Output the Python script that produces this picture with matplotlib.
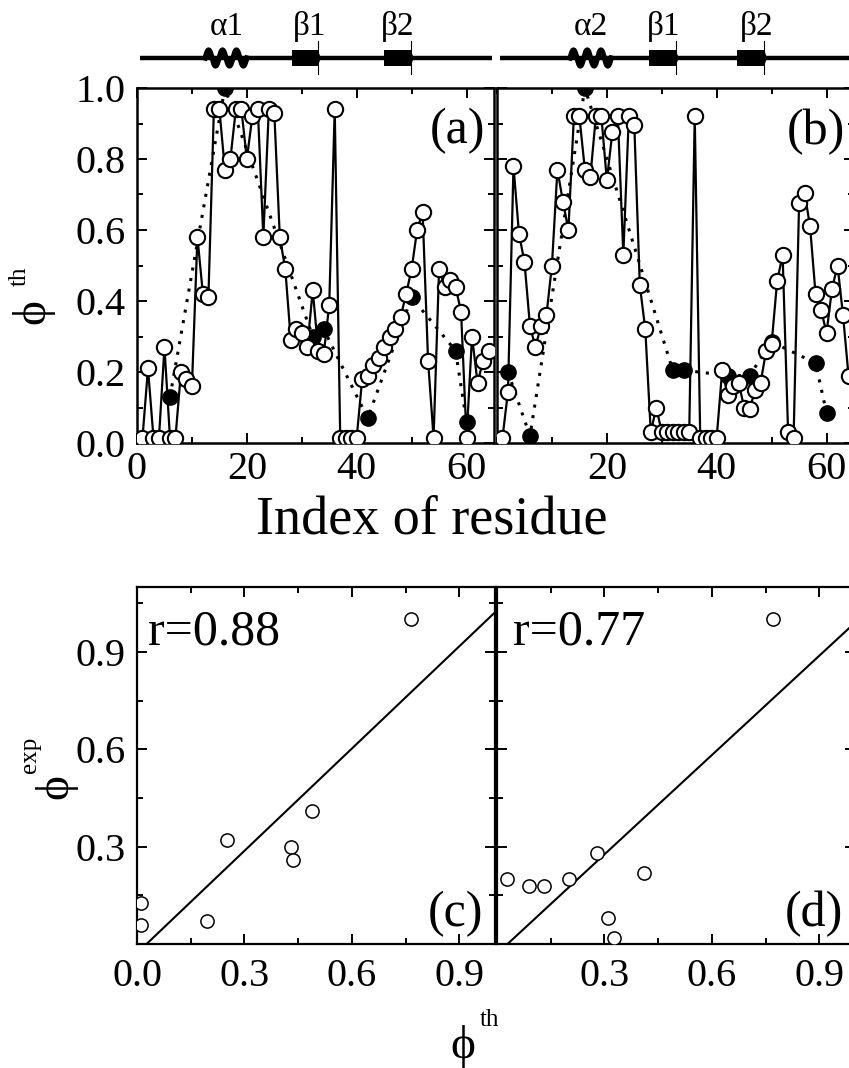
import matplotlib
matplotlib.use("Agg")
import matplotlib.pyplot as plt
from matplotlib.patches import Rectangle, Polygon
from matplotlib.ticker import MultipleLocator, FixedLocator
import numpy as np

plt.rcParams["font.family"] = ["Liberation Serif", "DejaVu Serif"]

W, H = 849, 1068

# ---- data -------------------------------------------------------------
residues = np.arange(1, 65)

# theoretical phi values per residue
phi_th_a = [0.015, 0.21, 0.015, 0.015, 0.27, 0.015, 0.015, 0.20, 0.18, 0.16,
            0.58, 0.42, 0.41, 0.94, 0.94, 0.77, 0.80, 0.94, 0.94, 0.80,
            0.92, 0.94, 0.58, 0.94, 0.93, 0.58, 0.49, 0.29, 0.32, 0.31,
            0.27, 0.43, 0.26, 0.25, 0.39, 0.94, 0.015, 0.015, 0.015, 0.015,
            0.18, 0.19, 0.22, 0.24, 0.27, 0.30, 0.32, 0.355, 0.42, 0.49,
            0.60, 0.65, 0.23, 0.015, 0.49, 0.44, 0.46, 0.44, 0.37, 0.015,
            0.30, 0.17, 0.23, 0.26]
phi_th_b = [0.015, 0.145, 0.78, 0.59, 0.51, 0.33, 0.27, 0.33, 0.36, 0.50,
            0.77, 0.68, 0.60, 0.92, 0.92, 0.77, 0.75, 0.92, 0.92, 0.74,
            0.875, 0.92, 0.53, 0.92, 0.895, 0.445, 0.32, 0.03, 0.10, 0.03,
            0.03, 0.03, 0.03, 0.03, 0.03, 0.92, 0.015, 0.015, 0.015, 0.015,
            0.205, 0.135, 0.16, 0.17, 0.10, 0.095, 0.15, 0.17, 0.26, 0.28,
            0.455, 0.53, 0.03, 0.015, 0.675, 0.705, 0.61, 0.42, 0.375, 0.31,
            0.435, 0.50, 0.36, 0.19]

# experimental phi values
exp_res_a = [6, 16, 32, 34, 42, 50, 58, 60]
exp_val_a = [0.13, 1.0, 0.30, 0.32, 0.07, 0.41, 0.26, 0.06]
exp_res_b = [2, 6, 16, 32, 34, 42, 46, 50, 58, 60]
exp_val_b = [0.20, 0.02, 1.0, 0.205, 0.205, 0.19, 0.19, 0.285, 0.225, 0.085]

# correlation panels
corr_th_c = [0.01, 0.01, 0.195, 0.25, 0.43, 0.435, 0.49, 0.765]
corr_exp_c = [0.127, 0.06, 0.07, 0.32, 0.30, 0.26, 0.41, 1.0]
corr_th_d = [0.027, 0.088, 0.13, 0.20, 0.28, 0.41, 0.31, 0.326, 0.77]
corr_exp_d = [0.20, 0.18, 0.18, 0.20, 0.28, 0.22, 0.08, 0.02, 1.0]
fit_c = (1.05, -0.028)  # slope, intercept
fit_d = (1.02, -0.03)
r_values = ["r=0.88", "r=0.77"]

# secondary structure (residue ranges)
helix_a = (12.4, 20.0)
strands_a = [(28.2, 33.5), (45.0, 50.4)]
labels_a = [("\u03b11", 16.4), ("\u03b21", 31.5), ("\u03b22", 47.4)]
helix_b = (13.3, 20.8)
strands_b = [(27.7, 33.1), (43.7, 49.2)]
labels_b = [("\u03b12", 17.1), ("\u03b21", 30.4), ("\u03b22", 47.3)]

panel_tags = ["(a)", "(b)", "(c)", "(d)"]
PHI = "\u03d5"


def box(left, top, width, height):
    """Axes rectangle from pixel geometry."""
    return [left / W, 1 - (top + height) / H, width / W, height / H]


def style_axes(ax, lw=1.8):
    for s in ax.spines.values():
        s.set_linewidth(lw)
    ax.tick_params(which="both", direction="in", top=True, right=True,
                   labelsize=29, width=1.4, pad=8)
    ax.tick_params(which="major", length=7)
    ax.tick_params(which="minor", length=4)


fig = plt.figure(figsize=(W / 100, H / 100), dpi=100)

# ---- residue profiles ---------------------------------------------------
ax_a = fig.add_axes(box(137, 88, 357, 355))
ax_b = fig.add_axes(box(497, 88, 357, 355))
profiles = [(ax_a, phi_th_a, exp_res_a, exp_val_a),
            (ax_b, phi_th_b, exp_res_b, exp_val_b)]
for ax, th, er, ev in profiles:
    ax.plot(er, ev, color="black", ls=(0, (1, 2.5)), lw=2.2,
            marker="o", ms=11, mfc="black", mec="black", zorder=2)
    ax.plot(residues, th, color="black", lw=1.6, marker="o", ms=11,
            mfc="white", mec="black", mew=1.5, zorder=3)
    ax.set_xlim(0, 65)
    ax.set_ylim(0, 1.0)
    ax.xaxis.set_major_locator(FixedLocator([0, 20, 40, 60]))
    ax.xaxis.set_minor_locator(MultipleLocator(10))
    ax.yaxis.set_major_locator(MultipleLocator(0.2))
    ax.yaxis.set_minor_locator(MultipleLocator(0.1))
    ax.yaxis.set_major_formatter(lambda v, p: f"{v:.1f}")
    style_axes(ax)
    ax.tick_params(axis="x", pad=6)
ax_b.xaxis.set_major_locator(FixedLocator([20, 40, 60]))
ax_b.tick_params(labelleft=False)

ax_a.text(0.975, 0.88, panel_tags[0], transform=ax_a.transAxes,
          ha="right", va="center", fontsize=36)
ax_b.text(0.975, 0.875, panel_tags[1], transform=ax_b.transAxes,
          ha="right", va="center", fontsize=36)


# ---- secondary structure strips -----------------------------------------
def draw_topology(ax, helix, strands, labels):
    ax.set_xlim(0, 65)
    ax.set_ylim(0, 85)
    ax.axis("off")
    base = 27
    ax.plot([0.5, 64.6], [base, base], color="black", lw=3.2,
            solid_capstyle="butt")
    hx = np.linspace(helix[0], helix[1], 200)
    phase = (hx - helix[0]) / (helix[1] - helix[0]) * 3.0 * 2 * np.pi
    ax.fill_between([helix[0], helix[1]], base - 2, base + 2, color="white")
    ax.plot(hx, base + 8 * np.sin(phase), color="black", lw=3.8)
    for s0, s1 in strands:
        ax.add_patch(Rectangle((s0, base - 8), s1 - s0 - 0.6, 16,
                               color="black", lw=0))
        ax.add_patch(Polygon([[s1 - 0.6, base - 8], [s1, base],
                              [s1 - 0.6, base + 8]], closed=True,
                             color="black", lw=0))
        ax.plot([s1 - 0.5, s1 - 0.5], [base - 16, base + 17],
                color="black", lw=0.8)
    for text, pos in labels:
        ax.text(pos, 58, text, ha="center", va="center", fontsize=24)


ax_sa = fig.add_axes(box(137, 0, 357, 85))
ax_sb = fig.add_axes(box(497, 0, 357, 85))
draw_topology(ax_sa, helix_a, strands_a, labels_a)
draw_topology(ax_sb, helix_b, strands_b, labels_b)

# ---- correlation panels -------------------------------------------------
ax_c = fig.add_axes(box(137, 587, 358, 357))
ax_d = fig.add_axes(box(497, 587, 358, 357))
corr = [(ax_c, corr_th_c, corr_exp_c, fit_c, r_values[0], 0.03, panel_tags[2]),
        (ax_d, corr_th_d, corr_exp_d, fit_d, r_values[1], 0.045, panel_tags[3])]
for ax, cx, cy, (k, b0), rtxt, rx, tag in corr:
    xs = np.array([0.0, 1.0])
    ax.plot(xs, k * xs + b0, color="black", lw=1.5, zorder=2)
    ax.plot(cx, cy, ls="none", marker="o", ms=9.5, mfc="white",
            mec="black", mew=1.1, zorder=3)
    ax.set_xlim(0, 1.0)
    ax.set_ylim(0, 1.1)
    ax.xaxis.set_major_locator(MultipleLocator(0.3))
    ax.xaxis.set_minor_locator(MultipleLocator(0.15))
    ax.yaxis.set_major_locator(FixedLocator([0.3, 0.6, 0.9]))
    ax.yaxis.set_minor_locator(MultipleLocator(0.15))
    ax.xaxis.set_major_formatter(lambda v, p: f"{v:.1f}")
    ax.yaxis.set_major_formatter(lambda v, p: f"{v:.1f}")
    style_axes(ax, lw=1.6)
    ax.tick_params(axis="x", pad=10)
    ax.text(rx, 0.874, rtxt, transform=ax.transAxes, ha="left",
            va="center", fontsize=36)
    ax.text(0.967, 0.085, tag, transform=ax.transAxes, ha="right",
            va="center", fontsize=36)
ax_d.tick_params(labelleft=False)
ax_d.xaxis.set_major_locator(FixedLocator([0.3, 0.6, 0.9]))

# ---- axis titles ---------------------------------------------------------
fig.text(432 / W, 1 - 520 / H, "Index of residue", ha="center",
         va="center", fontsize=39)

# phi^th (top, vertical)
fig.text(33 / W, 1 - 312 / H, PHI, rotation=90, ha="center",
         va="center", fontsize=34)
fig.text(20 / W, 1 - 276 / H, "th", rotation=90, ha="center",
         va="center", fontsize=18)
# phi^exp (bottom, vertical)
fig.text(56 / W, 1 - 787 / H, PHI, rotation=90, ha="center",
         va="center", fontsize=34)
fig.text(30 / W, 1 - 755 / H, "exp", rotation=90, ha="center",
         va="center", fontsize=18)
# phi^th (bottom, horizontal)
fig.text(463 / W, 1 - 1046 / H, PHI, ha="center", va="center",
         fontsize=34)
fig.text(489 / W, 1 - 1020 / H, "th", ha="center", va="center",
         fontsize=18)

fig.savefig("out.png", dpi=100)
